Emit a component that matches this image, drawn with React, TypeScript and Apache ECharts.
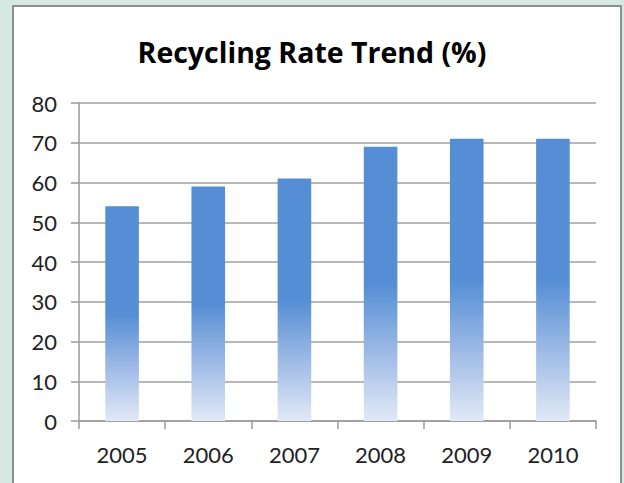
import React, { useEffect, useRef } from "react";
import * as echarts from "echarts";

const categories = ["2005", "2006", "2007", "2008", "2009", "2010"];
const rates = [54, 59, 61, 69, 71, 71];
const yTicks = { min: 0, max: 80, interval: 10 };
const titleText = "Recycling Rate Trend (%)";

export default function App() {
  const ref = useRef<HTMLDivElement>(null);
  useEffect(() => {
    if (!ref.current) return;
    const chart = echarts.init(ref.current, undefined, { renderer: "svg" });
    const font = "Lato, 'Open Sans', sans-serif";
    chart.setOption({
      animation: false,
      backgroundColor: "#D5E8E2",
      graphic: [
        {
          type: "rect",
          z: -10,
          shape: { x: 13, y: 6, width: 608, height: 490 },
          style: { fill: "#ffffff", stroke: "#8E8E8E", lineWidth: 2 },
        },
      ],
      title: {
        text: titleText,
        left: "center",
        top: 32,
        textStyle: { fontFamily: "'Open Sans', Lato, sans-serif", fontWeight: "bold", fontSize: 28.5, color: "#000" },
      },
      grid: { left: 79, right: 28, top: 103, bottom: 62 },
      xAxis: {
        type: "category",
        data: categories,
        axisLine: { lineStyle: { color: "#9A9A9A", width: 1.5 } },
        axisTick: { show: true, length: 8, lineStyle: { color: "#9A9A9A", width: 1.5 } },
        axisLabel: { fontFamily: font, fontSize: 22, color: "#222", margin: 22 },
      },
      yAxis: {
        type: "value",
        min: yTicks.min,
        max: yTicks.max,
        interval: yTicks.interval,
        axisLine: { show: true, lineStyle: { color: "#9A9A9A", width: 1.5 } },
        axisTick: { show: true, length: 8, lineStyle: { color: "#9A9A9A", width: 1.5 } },
        splitLine: { lineStyle: { color: "#A0A0A0", width: 1.5 } },
        axisLabel: { fontFamily: font, fontSize: 22, color: "#222", margin: 22 },
      },
      series: [
        {
          type: "bar",
          data: rates,
          barWidth: "39%",
          itemStyle: {
            color: new echarts.graphic.LinearGradient(0, 0, 0, 1, [
              { offset: 0, color: "#558ED5" },
              { offset: 0.5, color: "#558ED5" },
              { offset: 0.75, color: "#9DBAE6" },
              { offset: 1, color: "#E2E9F7" },
            ]),
          },
        },
      ],
    });
    return () => chart.dispose();
  }, []);
  return (
    <div
      ref={ref}
      style={{ position: "fixed", left: 0, top: 0, width: 624, height: 483 }}
    />
  );
}
